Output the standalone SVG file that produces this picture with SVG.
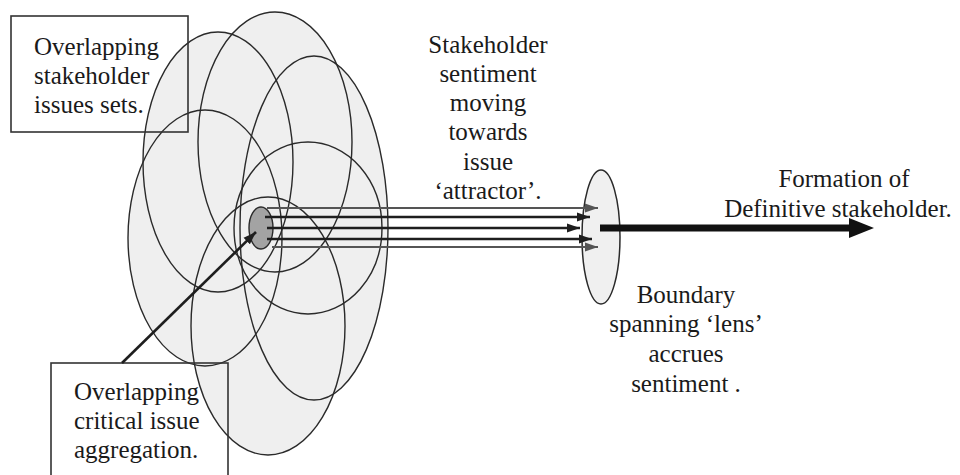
<svg xmlns="http://www.w3.org/2000/svg" width="960" height="475" viewBox="0 0 960 475">
  <style>
    .efill { fill: #efefef; stroke: none; }
    .estroke { fill: none; stroke: #2a2a2a; stroke-width: 1.4; }
    .box { fill: none; stroke: #333; stroke-width: 1.6; }
    .lbl { font-family: 'Liberation Serif', 'Tinos', 'DejaVu Serif', serif; font-size: 25px; fill: #1a1a1a; }
    .mid { text-anchor: middle; }
    .thick { stroke: #1e1e1e; stroke-width: 2.6; fill: none; }
    .thin { stroke: #555; stroke-width: 1.8; fill: none; }
  </style>
  <defs>
    <marker id="ah" markerUnits="userSpaceOnUse" markerWidth="14" markerHeight="10" refX="13" refY="5" orient="auto">
      <path d="M0,0.5 L13,5 L0,9.5 z" fill="#1e1e1e"/>
    </marker>
    <marker id="ahg" markerUnits="userSpaceOnUse" markerWidth="14" markerHeight="10" refX="13" refY="5" orient="auto">
      <path d="M0,0.5 L13,5 L0,9.5 z" fill="#555"/>
    </marker>
  </defs>
  <rect width="960" height="475" fill="#ffffff"/>

  <g id="issue-sets">
    <ellipse class="efill" cx="205" cy="238" rx="77" ry="128"/>
    <ellipse class="efill" cx="218" cy="162" rx="75" ry="130"/>
    <ellipse class="efill" cx="275" cy="142" rx="77" ry="130"/>
    <ellipse class="efill" cx="314" cy="228" rx="74" ry="172"/>
    <ellipse class="efill" cx="308" cy="228" rx="74" ry="86"/>
    <ellipse class="efill" cx="268" cy="326" rx="77" ry="129"/>
    <ellipse class="estroke" cx="205" cy="238" rx="77" ry="128"/>
    <ellipse class="estroke" cx="218" cy="162" rx="75" ry="130"/>
    <ellipse class="estroke" cx="275" cy="142" rx="77" ry="130"/>
    <ellipse class="estroke" cx="314" cy="228" rx="74" ry="172"/>
    <ellipse class="estroke" cx="308" cy="228" rx="74" ry="86"/>
    <ellipse class="estroke" cx="268" cy="326" rx="77" ry="129"/>
  </g>

  <g id="critical-issue">
    <ellipse cx="261" cy="228" rx="12" ry="21" fill="#a3a3a3" stroke="#2a2a2a" stroke-width="1.4"/>
  </g>

  <g id="lens">
    <ellipse cx="601" cy="237" rx="19" ry="67" fill="#f0f0f0" stroke="#2a2a2a" stroke-width="1.5"/>
  </g>

  <g id="box-issue-sets" font-family="Liberation Serif, Tinos, DejaVu Serif, serif">
    <rect class="box" x="11" y="16" width="177" height="116"/>
    <text class="lbl" x="34" y="55">Overlapping</text>
    <text class="lbl" x="34" y="84">stakeholder</text>
    <text class="lbl" x="34" y="113">issues sets.</text>
  </g>

  <g id="box-aggregation" font-family="Liberation Serif, Tinos, DejaVu Serif, serif">
    <rect class="box" x="51" y="363" width="177" height="125"/>
    <text class="lbl" x="74" y="400">Overlapping</text>
    <text class="lbl" x="74" y="429">critical issue</text>
    <text class="lbl" x="74" y="458">aggregation.</text>
  </g>

  <g id="connectors">
    <line class="thick" x1="122" y1="363" x2="256" y2="232" marker-end="url(#ah)"/>
    <line class="thin" x1="267" y1="208" x2="598" y2="208" marker-end="url(#ahg)"/>
    <line class="thick" x1="265" y1="217" x2="590" y2="217" marker-end="url(#ah)"/>
    <line class="thick" x1="267" y1="228" x2="580" y2="228" marker-end="url(#ah)"/>
    <line class="thick" x1="267" y1="239" x2="592" y2="239" marker-end="url(#ah)"/>
    <line class="thin" x1="272" y1="247" x2="598" y2="247" marker-end="url(#ahg)"/>
    <line x1="600" y1="228" x2="852" y2="228" stroke="#111" stroke-width="7"/>
    <polygon points="849,218 874,228 849,238" fill="#111"/>
  </g>

  <g id="label-sentiment" font-family="Liberation Serif, Tinos, DejaVu Serif, serif">
    <text class="lbl mid" x="488" y="53">Stakeholder</text>
    <text class="lbl mid" x="488" y="82">sentiment</text>
    <text class="lbl mid" x="488" y="111">moving</text>
    <text class="lbl mid" x="488" y="140">towards</text>
    <text class="lbl mid" x="488" y="170">issue</text>
    <text class="lbl mid" x="488" y="199">‘attractor’.</text>
  </g>

  <g id="label-formation" font-family="Liberation Serif, Tinos, DejaVu Serif, serif">
    <text class="lbl mid" x="844" y="187">Formation of</text>
    <text class="lbl mid" x="838" y="217">Definitive stakeholder.</text>
  </g>

  <g id="label-lens" font-family="Liberation Serif, Tinos, DejaVu Serif, serif">
    <text class="lbl mid" x="686" y="303">Boundary</text>
    <text class="lbl mid" x="686" y="332">spanning ‘lens’</text>
    <text class="lbl mid" x="686" y="362">accrues</text>
    <text class="lbl mid" x="686" y="392">sentiment .</text>
  </g>
</svg>
